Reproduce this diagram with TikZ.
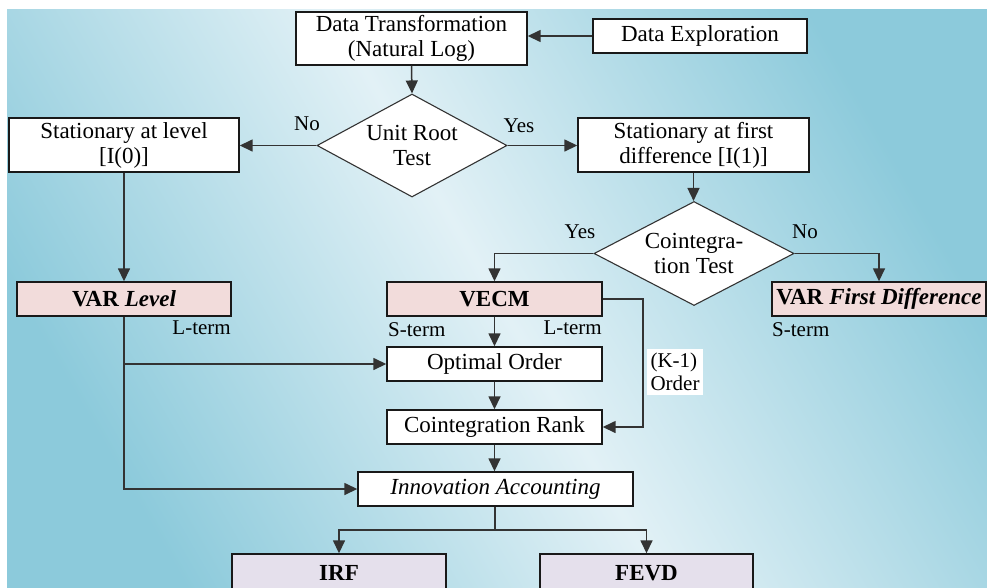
\documentclass[tikz,border=0pt]{standalone}
\usepackage{fontspec}
\setmainfont{Liberation Serif}
\usetikzlibrary{shapes.geometric,arrows.meta}
\definecolor{bgdark}{HTML}{8CCADB}
\definecolor{bglight}{HTML}{E2F1F6}
\definecolor{pinkfill}{HTML}{F2DCDB}
\definecolor{lavfill}{HTML}{E5E0EC}
\definecolor{linec}{HTML}{333333}
\newcommand\fmain{\fontsize{23}{25}\selectfont}
\newcommand\fsmall{\fontsize{21}{23}\selectfont}
\begin{document}
\begin{tikzpicture}[x=1pt,y=-1pt,
  box/.style={draw=black!90, line width=1.4pt, fill=white, inner sep=0pt, align=center, font=\fmain},
  pinkbox/.style={box, fill=pinkfill, minimum height=34pt},
  lavbox/.style={box, fill=lavfill, minimum height=38pt},
  dia/.style={diamond, draw=black!80, line width=1.1pt, fill=white, inner sep=0pt, aspect=1.85, align=center, font=\fmain},
  lbl/.style={inner sep=0pt, font=\fsmall},
  arr/.style={draw=linec, line width=1.5pt, -{Triangle[length=13pt,width=12pt]}},
  plain/.style={draw=linec, line width=1.5pt}]
\useasboundingbox (0,0) rectangle (987,587);
\clip (0,0) rectangle (987,587);
\shade[top color=bgdark, bottom color=bgdark, middle color=bglight, shading angle=-60] (7,9) rectangle (987,587);

% nodes
\node[box, minimum width=231pt, minimum height=53pt] (dt) at (411.5,38.5) {Data Transformation\\(Natural Log)};
\node[box, minimum width=214pt, minimum height=34pt] (de) at (700,36) {Data Exploration};
\node[dia, minimum width=190pt, minimum height=103pt] (ur) at (412,145.5) {Unit Root\\Test};
\node[box, minimum width=230pt, minimum height=54pt] (sl) at (124,145) {Stationary at level\\{}[I(0)]};
\node[box, minimum width=231pt, minimum height=54pt] (sfd) at (693.5,145) {Stationary at first\\difference [I(1)]};
\node[dia, minimum width=200pt, minimum height=104pt] (ct) at (694,253.5) {Cointegra-\\tion Test};
\node[pinkbox, minimum width=214pt] (varl) at (124,299) {\textbf{VAR} \textbf{\textit{Level}}};
\node[pinkbox, minimum width=215pt] (vecm) at (494.5,299) {\textbf{VECM}};
\node[pinkbox, minimum width=214pt] (varfd) at (879,299) {\textbf{VAR} \textbf{\textit{First Difference}}};
\node[box, minimum width=215pt, minimum height=34pt] (oo) at (494.5,364) {Optimal Order};
\node[box, minimum width=215pt, minimum height=34pt] (cr) at (494.5,427) {Cointegration Rank};
\node[box, minimum width=275pt, minimum height=34pt] (ia) at (495.5,489) {\textit{Innovation Accounting}};
\node[lavbox, minimum width=214pt] (irf) at (339,573) {\textbf{IRF}};
\node[lavbox, minimum width=213pt] (fevd) at (646.5,573) {\textbf{FEVD}};

% labels
\node[lbl] (lno) at (307,124) {No};
\node[lbl] (lyes) at (519,126) {Yes};
\node[lbl] (lyes2) at (580,232) {Yes};
\node[lbl] (lno2) at (805,232) {No};
\node[lbl, anchor=east] (lt1) at (231,328) {L-term};
\node[lbl, anchor=west] (st1) at (388,330) {S-term};
\node[lbl, anchor=east] (lt2) at (602,328) {L-term};
\node[lbl, anchor=west] (st2) at (772,330) {S-term};
\node[lbl, fill=white, align=left, inner sep=4pt] (ko) at (675,372) {(K-1)\\Order};

% coordinates
\coordinate (kc) at (643,299);
\coordinate (split) at (495,530);

% connectors
\draw[arr] (de.west) -- (de.west -| dt.east);
\draw[arr] (dt.south) -- (ur.north);
\draw[arr] (ur.west) -- (ur.west -| sl.east);
\draw[arr] (ur.east) -- (ur.east -| sfd.west);
\draw[arr] (sl.south) -- (varl.north);
\draw[arr] (sfd.south) -- (sfd.south |- ct.north);
\draw[arr] (ct.west) -| (vecm.north);
\draw[arr] (ct.east) -| (varfd.north);
\draw[arr] (vecm.south) -- (oo.north);
\draw[arr] (oo.south) -- (cr.north);
\draw[arr] (cr.south) -- (cr.south |- ia.north);
\draw[arr] (vecm.east) -- (kc) |- (cr.east);
\draw[arr] (varl.south) |- (ia.west);
\draw[arr] (varl.south |- oo.west) -- (oo.west);
\draw[plain] (ia.south -| split) -- (split);
\draw[arr] (split) -| (irf.north);
\draw[arr] (split) -| (fevd.north);
\end{tikzpicture}
\end{document}
